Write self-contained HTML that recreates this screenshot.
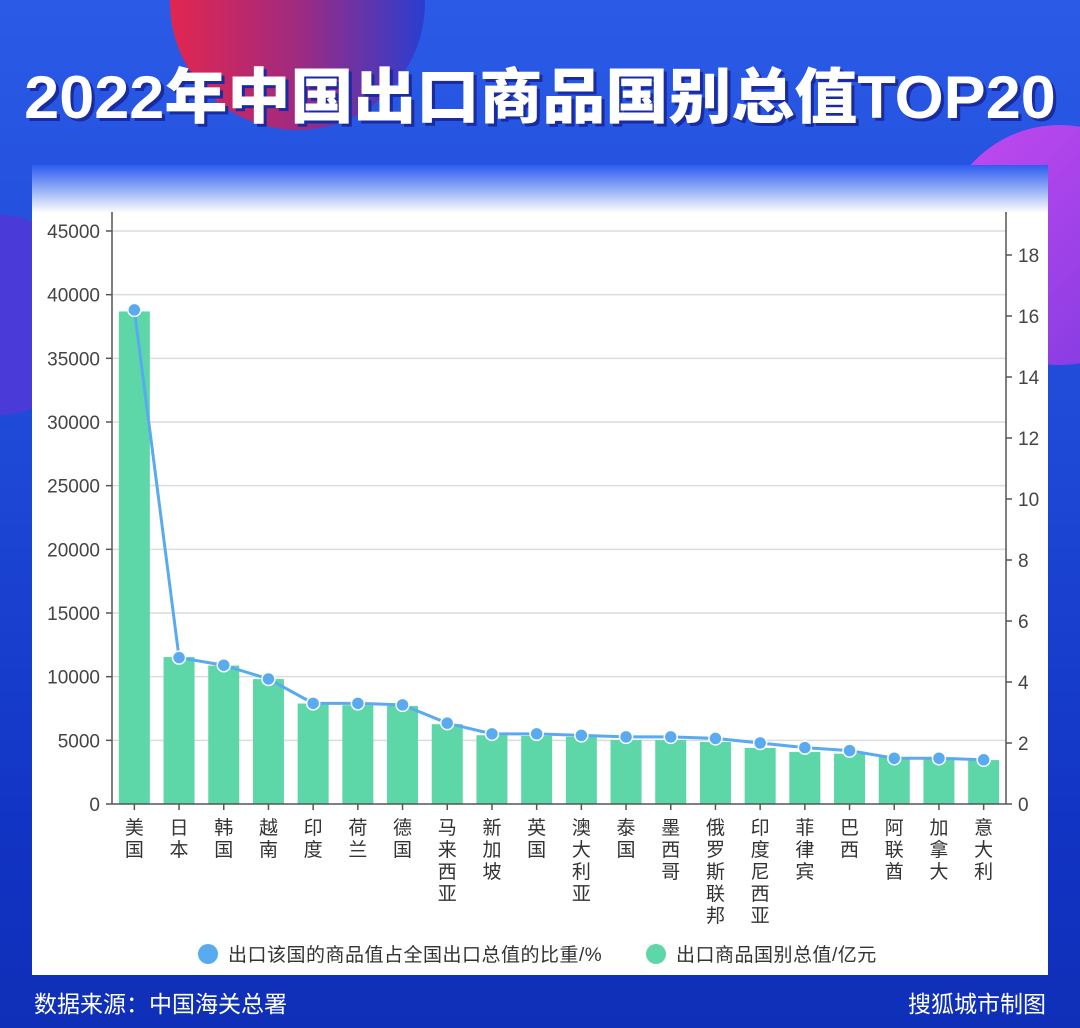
<!DOCTYPE html>
<html><head><meta charset="utf-8"><style>
body{margin:0;width:1080px;height:1028px;overflow:hidden;font-family:"Liberation Sans","Noto Sans CJK SC",sans-serif}
#bg{position:absolute;left:0;top:0;width:1080px;height:1028px;background:linear-gradient(180deg,#2a5ae6 0%,#1f4bd8 40%,#1234c4 80%,#0f2fb8 100%);overflow:hidden}
</style></head><body>
<div id="bg">
<div style="position:absolute;left:170px;top:-125px;width:255px;height:255px;border-radius:50%;background:linear-gradient(90deg,#e2264f 0%,#a02a80 50%,#2a3ed0 100%)"></div>
<div style="position:absolute;left:940px;top:125px;width:240px;height:240px;border-radius:50%;background:linear-gradient(135deg,#c54af0,#7a3ae0)"></div>
<div style="position:absolute;left:-90px;top:215px;width:180px;height:200px;border-radius:50%;background:#4a3ad8"></div>
<div style="position:absolute;left:0;top:49px;width:1080px;text-align:center;color:#fff;font-size:60px;font-weight:900;text-shadow:3px 3px 0 #1a2aa0;transform:scaleX(1.05);transform-origin:center;font-family:'Liberation Sans','Noto Sans CJK SC',sans-serif">2022年中国出口商品国别总值TOP20</div>
<div style="position:absolute;left:32px;top:165px;width:1016px;height:810px;background:linear-gradient(180deg,#2d5cf0 0px,#8aa6f5 22px,#ffffff 48px,#ffffff 100%)"></div>
<div style="position:absolute;left:34px;top:985px;color:#fff;font-size:23px">数据来源：中国海关总署</div>
<div style="position:absolute;right:34px;top:985px;color:#fff;font-size:23px">搜狐城市制图</div>
<svg id="chart" width="1080" height="1028" style="position:absolute;left:0;top:0"></svg>
</div>
<script>
const categories=["美国","日本","韩国","越南","印度","荷兰","德国","马来西亚","新加坡","英国","澳大利亚","泰国","墨西哥","俄罗斯联邦","印度尼西亚","菲律宾","巴西","阿联酋","加拿大","意大利"];
const exportValues=[38680,11540,10870,9810,7890,7760,7700,6270,5400,5350,5270,5030,5020,4870,4400,4080,3950,3690,3650,3450];
const sharePct=[16.2,4.8,4.55,4.1,3.3,3.3,3.25,2.65,2.3,2.3,2.25,2.2,2.2,2.15,2.0,1.85,1.75,1.5,1.5,1.45];
const leftTicks=[0,5000,10000,15000,20000,25000,30000,35000,40000,45000];
const rightTicks=[0,2,4,6,8,10,12,14,16,18];
const NS="http://www.w3.org/2000/svg",svg=document.getElementById('chart');
const x0=112,x1=1006,yb=804,ytop=212;
const band=(x1-x0)/20;
const yL=v=>yb-v/45000*(yb-231);
const yR=v=>yb-v/18*(yb-255);
const xc=i=>x0+band*(i+0.5);
function mk(t,a,p){const e=document.createElementNS(NS,t);for(const k in a)e.setAttribute(k,a[k]);(p||svg).appendChild(e);return e;}
leftTicks.forEach(v=>{
 if(v>0){const g=mk('line',{x1:x0,x2:x1,y1:yL(v),y2:yL(v),stroke:'#dcdcdc','stroke-width':1.5});}
 mk('line',{x1:x0-6,x2:x0,y1:yL(v),y2:yL(v),stroke:'#555','stroke-width':1.5});
 const t=mk('text',{x:x0-12,y:yL(v)+7,'text-anchor':'end','font-size':19,fill:'#444'});t.textContent=v;
 
});
rightTicks.forEach(v=>{
 mk('line',{x1:x1,x2:x1+6,y1:yR(v),y2:yR(v),stroke:'#555','stroke-width':1.5});
 const t=mk('text',{x:x1+12,y:yR(v)+7,'font-size':19,fill:'#444'});t.textContent=v;
 
});
exportValues.forEach((v,i)=>{
 const r=mk('rect',{x:xc(i)-15.5,y:yL(v),width:31,height:yb-yL(v),fill:'#5dd6a8'});
 
});
mk('line',{x1:x0,x2:x0,y1:ytop,y2:yb,stroke:'#555','stroke-width':1.5});
mk('line',{x1:x1,x2:x1,y1:ytop,y2:yb,stroke:'#555','stroke-width':1.5});
mk('line',{x1:x0,x2:x1,y1:yb,y2:yb,stroke:'#555','stroke-width':1.5});
const pl=mk('polyline',{points:sharePct.map((v,i)=>xc(i)+','+yR(v)).join(' '),fill:'none',stroke:'#5aaaf0','stroke-width':3});

sharePct.forEach((v,i)=>{
 const c=mk('circle',{cx:xc(i),cy:yR(v),r:6.5,fill:'#5aaaf0',stroke:'#fff','stroke-width':1.5});
 
});
categories.forEach((c,i)=>{
 mk('line',{x1:xc(i),x2:xc(i),y1:yb,y2:yb+6,stroke:'#555','stroke-width':1.5});
 const t=mk('text',{x:xc(i),y:yb+30,'text-anchor':'middle','font-size':19,fill:'#333'});
 
 [...c].forEach((ch,j)=>{const s=mk('tspan',{x:xc(i),dy:j?22:0},t);s.textContent=ch;});
});
const lg=[[208,'#5aaaf0','出口该国的商品值占全国出口总值的比重/%','legend-share'],[656,'#5dd6a8','出口商品国别总值/亿元','legend-export']];
lg.forEach(([x,col,txt,nm])=>{
 const c=mk('circle',{cx:x,cy:954,r:10,fill:col});
 const t=mk('text',{x:x+20,y:961,'font-size':19,fill:'#333','letter-spacing':'0.5'});t.textContent=txt;
 
});
</script>
</body></html>
